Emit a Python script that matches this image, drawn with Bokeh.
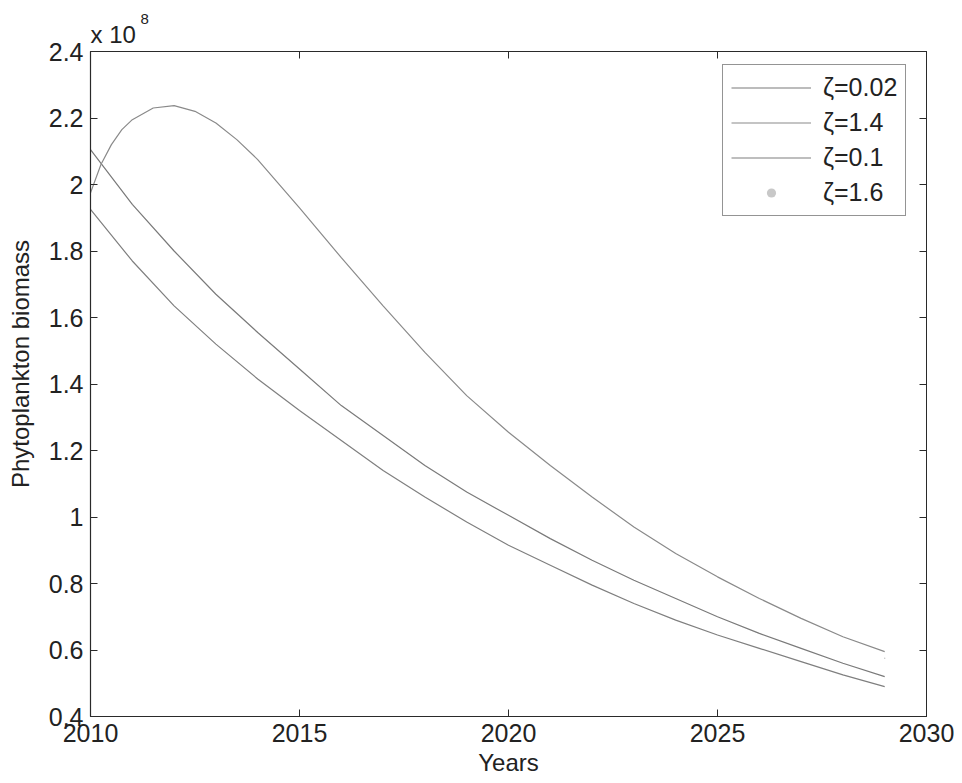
from bokeh.plotting import figure
from bokeh.models import (Range1d, LinearAxis, Legend, LegendItem, Title,
                          FixedTicker)
from bokeh.embed import file_html
from bokeh.resources import INLINE

# ---- data (biomass in units of 1e8) ----
years_hump = [2010, 2010.25, 2010.5, 2010.75, 2011, 2011.5, 2012, 2012.5, 2013,
              2013.5, 2014, 2015, 2016, 2017, 2018, 2019, 2020, 2021, 2022,
              2023, 2024, 2025, 2026, 2027, 2028, 2029]
zeta_1_4 = [1.975, 2.06, 2.12, 2.165, 2.195, 2.23, 2.237, 2.22, 2.185,
            2.135, 2.075, 1.93, 1.78, 1.635, 1.495, 1.365, 1.255, 1.155, 1.06,
            0.97, 0.89, 0.82, 0.755, 0.695, 0.64, 0.595]

years = [2010, 2011, 2012, 2013, 2014, 2015, 2016, 2017, 2018, 2019,
         2020, 2021, 2022, 2023, 2024, 2025, 2026, 2027, 2028, 2029]
zeta_0_02 = [2.105, 1.94, 1.80, 1.67, 1.555, 1.445, 1.335, 1.245, 1.155, 1.075,
             1.005, 0.935, 0.87, 0.81, 0.755, 0.70, 0.65, 0.605, 0.56, 0.52]
zeta_0_1 = [1.925, 1.77, 1.635, 1.52, 1.415, 1.32, 1.23, 1.14, 1.06, 0.985,
            0.915, 0.855, 0.795, 0.74, 0.69, 0.645, 0.605, 0.565, 0.525, 0.49]
years_1_6 = [2029]
zeta_1_6 = [0.575]

x_ticks = [2010, 2015, 2020, 2025, 2030]
y_ticks = [0.4, 0.6, 0.8, 1.0, 1.2, 1.4, 1.6, 1.8, 2.0, 2.2, 2.4]
y_tick_labels = ["0.4", "0.6", "0.8", "1", "1.2", "1.4", "1.6", "1.8", "2", "2.2", "2.4"]

FONT = "Liberation Sans"
FS = "25px"
AX = "#2a2a2a"
TXT = "#222222"

p = figure(frame_width=836, frame_height=665, output_backend="svg",
           toolbar_location=None, x_range=Range1d(2010, 2030),
           y_range=Range1d(0.4, 2.4), title=None,
           min_border_left=90, min_border_right=28, min_border_top=51,
           min_border_bottom=60)
p.background_fill_color = "white"
p.border_fill_color = "white"
p.grid.visible = False
p.outline_line_color = AX
p.outline_line_width = 1

for ax in (p.xaxis[0], p.yaxis[0]):
    ax.major_tick_in = 7
    ax.major_tick_out = 0
    ax.minor_tick_in = 0
    ax.minor_tick_out = 0
    ax.axis_line_color = AX
    ax.axis_line_width = 1.2
    ax.major_tick_line_color = AX
    ax.major_label_text_font = FONT
    ax.major_label_text_font_size = FS
    ax.major_label_text_color = TXT
    ax.axis_label_text_font = FONT
    ax.axis_label_text_font_size = "24px"
    ax.axis_label_text_font_style = "normal"
    ax.axis_label_text_color = TXT

p.xaxis.ticker = FixedTicker(ticks=x_ticks)
p.yaxis.ticker = FixedTicker(ticks=y_ticks)
p.yaxis.major_label_overrides = {t: l for t, l in zip(y_ticks, y_tick_labels)}
p.xaxis.axis_label = "Years"
p.yaxis.axis_label = "\u00a0" * 6 + "Phytoplankton biomass"
p.xaxis.major_label_standoff = 7
p.yaxis.major_label_standoff = 7
p.xaxis.axis_label_standoff = 4
p.yaxis.axis_label_standoff = 12

top = LinearAxis(ticker=FixedTicker(ticks=x_ticks), major_label_text_font_size="1px",
                 major_label_text_color=None,
                 major_tick_in=7, major_tick_out=0, minor_tick_in=0, minor_tick_out=0,
                 axis_line_color=AX, major_tick_line_color=AX, major_label_standoff=0)
right = LinearAxis(ticker=FixedTicker(ticks=y_ticks), major_label_text_font_size="1px",
                   major_label_text_color=None,
                   major_tick_in=7, major_tick_out=0, minor_tick_in=0, minor_tick_out=0,
                   axis_line_color=AX, major_tick_line_color=AX, major_label_standoff=0)
p.add_layout(top, "above")
p.add_layout(right, "right")

t1 = Title(text="x 10", text_font=FONT, text_font_size="24px", text_color=TXT,
           text_font_style="normal", align="left", offset=0, standoff=8)
t2 = Title(text="8", text_font=FONT, text_font_size="15px", text_color=TXT,
           text_font_style="normal", align="left", offset=50, standoff=-18)
p.add_layout(t1, "above")
p.add_layout(t2, "above")

r1 = p.line(years, zeta_0_02, line_color="#7a7a7a", line_width=1.2)
r2 = p.line(years_hump, zeta_1_4, line_color="#8a8a8a", line_width=1.2)
r3 = p.line(years, zeta_0_1, line_color="#7f7f7f", line_width=1.2)
r4 = p.scatter(years_1_6, zeta_1_6, size=1.5, color="#c8c8c8", line_alpha=0.0)

legend = Legend(items=[
    LegendItem(label="ζ=0.02", renderers=[r1]),
    LegendItem(label="ζ=1.4", renderers=[r2]),
    LegendItem(label="ζ=0.1", renderers=[r3]),
    LegendItem(label="ζ=1.6", renderers=[r4]),
], location=(632, 500), orientation="vertical")
legend.glyph_width = 80
legend.glyph_height = 23
legend.label_height = 23
legend.spacing = 6
legend.padding = 8
legend.margin = 0
legend.label_standoff = 12
legend.label_text_font = FONT
legend.label_text_font_size = FS
legend.label_text_color = TXT
legend.border_line_color = AX
legend.border_line_width = 1.2
legend.background_fill_color = "white"
legend.background_fill_alpha = 1.0
p.add_layout(legend, "center")

open("out.html", "w").write(file_html(p, INLINE))
